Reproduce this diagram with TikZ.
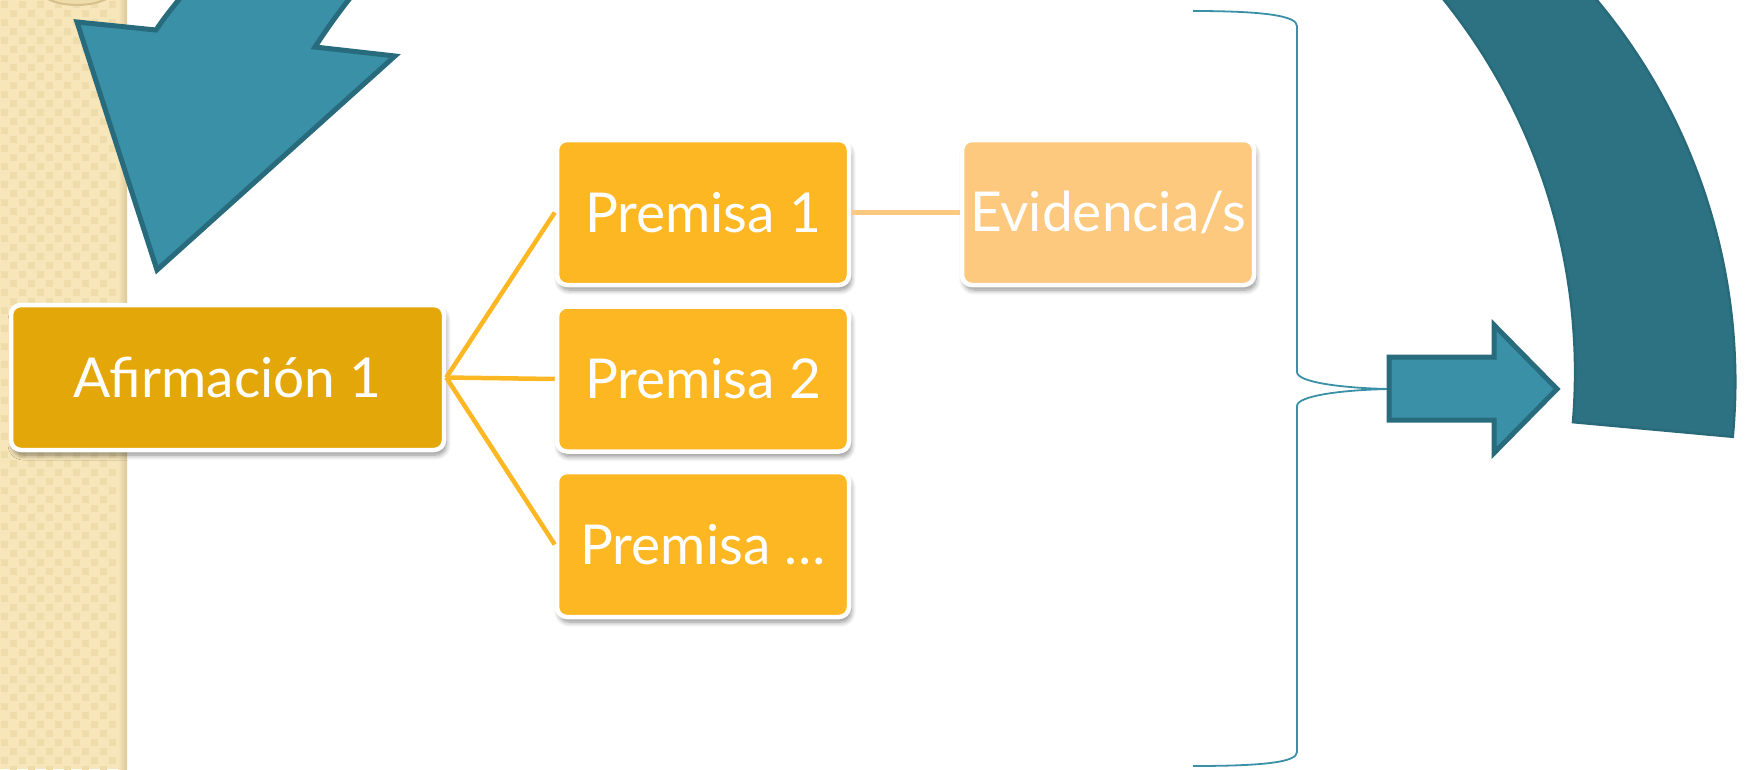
\documentclass[tikz,border=0pt]{standalone}
\usepackage{fontspec}
\setmainfont{Lato}
\usetikzlibrary{shadows,shadows.blur}
\definecolor{cAfirm}{HTML}{E4A70A}
\definecolor{cPrem}{HTML}{FCB722}
\definecolor{cEvid}{HTML}{FDC97F}
\definecolor{cTeal}{HTML}{3A90A6}
\definecolor{cTealD}{HTML}{286B7C}
\definecolor{cDark}{HTML}{2D7282}
\definecolor{cDarkB}{HTML}{286A7A}
\definecolor{cBeige}{HTML}{F7E6BA}
\definecolor{cBeigeD}{HTML}{EFDCAB}
\definecolor{cBeigeE}{HTML}{DCC798}
\definecolor{cRim}{HTML}{D6C18C}
\tikzset{
  box/.style={rounded corners=10pt, draw=white, line width=4.5pt, text=white,
    font=\fontsize{55}{60}\selectfont, minimum width=292pt, minimum height=145pt,
    inner sep=0pt, blur shadow={shadow xshift=2pt, shadow yshift=-5pt, shadow blur radius=5pt, shadow blur steps=8, shadow opacity=45}},
  link/.style={line width=4.5pt},
  tealshape/.style={fill=cTeal, draw=cTealD, line width=5pt, line join=miter},
}
\begin{document}
\begin{tikzpicture}[x=1pt,y=-1pt]
\useasboundingbox (0,0) rectangle (1749,769);
\begin{scope}
\clip (0,0) rectangle (1749,769);
% left patterned strip
\fill[cBeige] (0,0) rectangle (127,769);
\foreach \i in {0,...,13}{
  \pgfmathtruncatemacro\off{mod(\i,2)}
  \foreach \j in {0,...,42}{
    \fill[cBeigeD] ({9*\i+1},{18*\j+9*\off+1}) rectangle ++(7,7);
  }
}
\shade[left color=cBeige, right color=cBeigeE] (118,0) rectangle (127,769);
\filldraw[fill=cBeigeD, draw=cRim, line width=2pt] (77,-14) ellipse [x radius=40, y radius=19];
% top-left arrow head
\filldraw[tealshape] (204,-30) .. controls (185,-8) and (168,12) .. (156,30) -- (77,22) -- (157,270) -- (395,56) -- (315,47) .. controls (330,24) and (350,-4) .. (374,-30) -- cycle;
% big curved arrow on the right
\filldraw[fill=cDark, draw=cDarkB, line width=2.5pt]
  plot[domain=-46:5.3, samples=60] ({1140+595.3*cos(\x)},{381.8+595.3*sin(\x)})
  -- plot[domain=4.8:-45, samples=60] ({980.5+594.6*cos(\x)},{372.4+594.6*sin(\x)}) -- cycle;
\end{scope}
% brace
\draw[cTeal, line width=1.8pt] (1193,11) .. controls (1265,11) and (1297,16) .. (1297,26)
  -- (1297,372) .. controls (1297,382) and (1340,388) .. (1389,389)
  .. controls (1340,390) and (1297,396) .. (1297,406)
  -- (1297,752) .. controls (1297,762) and (1265,766) .. (1193,766);
% right block arrow
\filldraw[tealshape] (1389,357) -- (1494,357) -- (1494,325) -- (1557,389) -- (1494,453) -- (1494,420) -- (1389,420) -- cycle;
% nodes
\node[box, fill=cAfirm, minimum width=433pt] (afirm) at (227.5,377.5) {Afirmación 1};
\node[box, fill=cPrem] (p1) at (703,212.5) {Premisa 1};
\node[box, fill=cPrem] (p2) at (703,379) {Premisa 2};
\node[box, fill=cPrem] (p3) at (703,544.5) {Premisa …};
\node[box, fill=cEvid] (ev) at (1108,212.5) {Evidencia/s};
% connectors
\draw[link, cPrem] (afirm.east) -- (p1.west);
\draw[link, cPrem] (afirm.east) -- (p2.west);
\draw[link, cPrem] (afirm.east) -- (p3.west);
\draw[link, cEvid, line width=5pt] (p1.east) -- (ev.west);
\end{tikzpicture}
\end{document}
